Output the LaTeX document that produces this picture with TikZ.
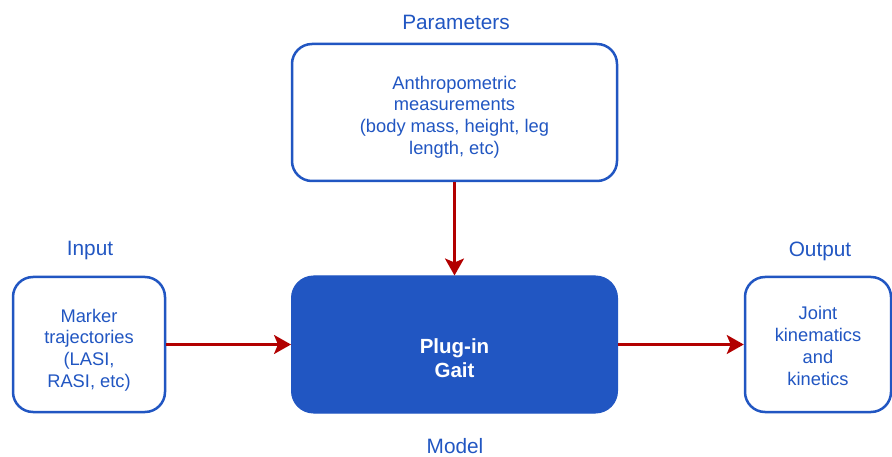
\documentclass[tikz,border=0pt]{standalone}
\usepackage{fontspec}
\setmainfont{Liberation Sans}
\usetikzlibrary{arrows.meta}
\definecolor{dblue}{HTML}{2156C2}
\definecolor{dred}{HTML}{B20000}
\tikzset{
  box/.style={draw=dblue, line width=2.5pt, rounded corners=20pt, fill=white, rectangle, inner sep=0pt},
  boxtext/.style={text=dblue, align=center, font=\fontsize{18.3}{21.7}\selectfont},
  lbl/.style={text=dblue, font=\fontsize{20.8}{24}\selectfont, inner sep=0pt},
  modelbox/.style={fill=dblue, draw=dblue, line width=1pt, rounded corners=22pt, rectangle, inner sep=0pt},
  arr/.style={draw=dred, line width=2.5pt, -{Stealth[length=17pt,width=19pt,inset=4pt]}}
}
\begin{document}
\begin{tikzpicture}[x=1pt,y=-1pt]
\useasboundingbox (0,0) rectangle (892,457);
\node[box, minimum width=325pt, minimum height=137pt] (params) at (454.5,112.5) {};
\node[boxtext] (paramstxt) at (454.5,117) {Anthropometric\\measurements\\(body mass, height, leg\\length, etc)};
\node[box, minimum width=152pt, minimum height=135pt] (input) at (89,344.5) {};
\node[boxtext] (inputtxt) at (89,350) {Marker\\trajectories\\(LASI,\\RASI, etc)};
\node[modelbox, minimum width=326pt, minimum height=137pt] (model) at (454.5,344.5) {};
\node[text=white, align=center, font=\bfseries\fontsize{20.5}{24}\selectfont] (modeltxt) at (454.5,358) {Plug-in\\Gait};
\node[box, minimum width=146pt, minimum height=135pt] (output) at (818,344.5) {};
\node[boxtext] (outputtxt) at (818,346) {Joint\\kinematics\\and\\kinetics};
\node[lbl] (lparams) at (456,22) {Parameters};
\node[lbl] (linput) at (90,251) {Input};
\node[lbl] (loutput) at (820,251) {Output};
\node[lbl] (lmodel) at (455,446.5) {Model};
\draw[arr] (params.south) -- (model.north);
\draw[arr] (input.east) -- (model.west);
\draw[arr] (model.east) -- (output.west);
\end{tikzpicture}
\end{document}
